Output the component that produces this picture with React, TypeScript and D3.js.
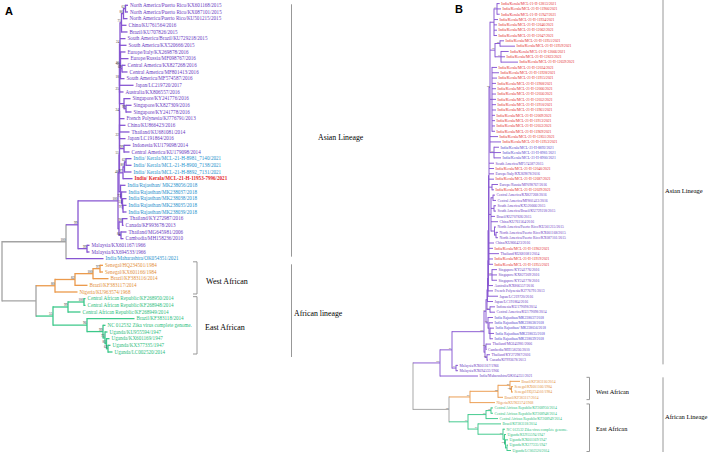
import React from 'react';
import * as d3 from 'd3';

// ---------- Panel A data ----------
const A_NAMES = [
  'North America/Puerto Rico/KX601168/2015', 'North America/Puerto Rico/KX087101/2015', 'North America/Puerto Rico/KU501215/2015',
  'China/KU761564/2016', 'Brazil/KU707826/2015', 'South America/Brazil/KU729218/2015', 'South America/KX520666/2015',
  'Europe/Italy/KX269878/2016', 'Europe/Russia/MF098767/2016', 'Central America/KX827268/2016', 'Central America/MF801413/2016',
  'South America/MF574587/2016', 'Japan/LC219720/2017', 'Australia/KX806557/2016', 'Singapore/KY241776/2016',
  'Singapore/KX827309/2016', 'Singapore/KY241778/2016', 'French Polynesia/KJ776791/2013', 'China/KU866423/2016',
  'Thailand/KU681081/2014', 'Japan/LC191864/2016', 'Indonesia/KU179098/2014', 'Central America/KU179098/2014',
  'India/ Kerala/MCL-21-H-8981_7140/2021', 'India/ Kerala/MCL-21-H-8900_7138/2021', 'India/ Kerala/MCL-21-H-8892_7131/2021',
  'India/ Kerala/MCL-21-H-11953-7996/2021', 'India/Rajasthan/ MK238056/2018', 'India/Rajasthan/MK238037/2018',
  'India/Rajasthan/MK238038/2018', 'India/Rajasthan/MK238035/2018', 'India/Rajasthan/MK238039/2018',
  'Thailand/KY272987/2016', 'Canada/KF993678/2013', 'Thailand/MG645981/2006', 'Cambodia/MH158236/2010',
  'Malaysia/KX601167/1966', 'Malaysia/KX694533/1966', 'India/Maharashtra/OK054351/2021',
  'Senegal/HQ234501/1984', 'Senegal/KX601166/1984', 'Brazil/KF383116/2014', 'Brazil/KF383117/2014', 'Nigeria/KU963574/1968',
  'Central African Republic/KF268950/2014', 'Central African Republic/KF268948/2014', 'Central African Republic/KF268949/2014',
  'Brazil/KF383118/2014', 'NC 012532 Zika virus complete genome.', 'Uganda/KU955594/1947', 'Uganda/KX601169/1947',
  'Uganda/KX377335/1947', 'Uganda/LC002520/2014',
];
const A_GROUPS = 'ppppppppppppppppppppppp' + 'bbb' + 'r' + 'bbbbb' + 'pppppp' + 'b' + 'ooooo' + 'eeeeeeeee';
const A_TIP_DEPTH = [
  126, 126, 125.5, 124.5, 125.5, 123.5, 124.5, 123.5, 126.5, 123.5, 125.5, 122.5, 131.5, 121.5, 128.5, 129.5, 129.5,
  122.5, 123.5, 127.5, 123.5, 128.5, 127.5, 129.5, 129.5, 129.5, 130.5, 123.5, 124.5, 124.5, 124.5, 124.5, 125.5,
  121.5, 124.5, 121.5, 87.5, 87.5, 101.5, 101, 101, 106.5, 85.5, 75.5, 83.5, 83.5, 78.5, 132.5, 103.5, 105.5, 107.5,
  108.5, 110.5,
];
// [id, depth, bootstrap, lineage, children]  (numbers = leaf index)
const A_NODES: [string, number, string, string, (string | number)[]][] = [
  ['root', 0, '', 'g', ['N1', 'AF']],
  ['N1', 64, '100', 'g', ['N2', 38]],
  ['N2', 76, '99', 'p', ['A0', 'MAL']],
  ['MAL', 85, '99', 'p', [36, 37]],
  ['A0', 116, '100', 'p', ['AU', 'T']],
  ['T', 117, '', 'p', ['T2', 'T3']],
  ['T2', 120.5, '98', 'p', [32, 33]],
  ['T3', 119, '84', 'p', [34, 35]],
  ['AU', 117, '48', 'p', ['A1', 'RJ']],
  ['A1', 117.5, '55', 'p', ['A2', 'KL1']],
  ['KL1', 121, '97', 'p', ['KL2', 26]],
  ['KL2', 122.5, '80', 'p', ['KL3', 25]],
  ['KL3', 124, '62', 'p', [23, 24]],
  ['RJ', 118.5, '', 'p', [27, 'RJ1']],
  ['RJ1', 119.5, '73', 'p', [28, 'RJ2']],
  ['RJ2', 120.5, '51', 'p', [29, 'RJ3']],
  ['RJ3', 121, '97', 'p', [30, 31]],
  ['A2', 117.5, '22', 'p', ['A3', 'IC']],
  ['IC', 122, '99', 'p', [21, 22]],
  ['A3', 117.5, '', 'p', ['A4', 20]],
  ['A4', 117.5, '24', 'p', ['A5', 17, 18, 19]],
  ['A5', 117.5, '25', 'p', ['A6', 'SG']],
  ['SG', 122, '', 'p', [14, 'SG1']],
  ['SG1', 124, '99', 'p', [15, 16]],
  ['A6', 117.5, '18', 'p', ['A7', 13]],
  ['A7', 117.5, '46', 'p', ['A8', 12]],
  ['A8', 118, '24', 'p', ['A9', 5, 6, 'A8b']],
  ['A8b', 118.5, '50', 'p', [7, 8, 'CAM', 11]],
  ['CAM', 120, '69', 'p', [9, 10]],
  ['A9', 119.5, '75', 'p', ['NA', 3, 4]],
  ['NA', 121.5, '86', 'p', ['NA1', 2]],
  ['NA1', 123.5, '62', 'p', [0, 1]],
  ['AF', 34, '', 'g', ['W0', 'E0']],
  ['W0', 53, '80', 'o', ['W1', 43]],
  ['W1', 73, '82', 'o', ['W2', 42]],
  ['W2', 91, '100', 'o', ['W3', 41]],
  ['W3', 98, '97', 'o', [39, 40]],
  ['E0', 51, '55', 'e', ['E1', 'E2']],
  ['E1', 66, '99', 'e', ['E1a', 46]],
  ['E1a', 82, '100', 'e', [44, 45]],
  ['E2', 85, '96', 'e', [47, 'E3']],
  ['E3', 101, '99', 'e', [48, 'E4']],
  ['E4', 103, '73', 'e', [49, 'E5']],
  ['E5', 104.5, '81', 'e', [50, 'E6']],
  ['E6', 106, '63', 'e', [51, 52]],
];

// ---------- Panel B data ----------
const K = (id: string) => `India/Kerala/MCL-21-H-${id}/2021`;
const B_NAMES = [
  K('12813'), K('11906'), K('11947'), K('11934'), K('12646'), K('12062'), K('12047'), K('11951'), K('11959'), K('12066'),
  K('12823'), K('12659'), K('12034'), K('11928'), K('11915'), K('11908'), K('12006'), K('12056'), K('12052'), K('11910'),
  K('11961'), K('12009'), K('11913'), K('12053'), K('11969'), K('12851'), K('11953'), K('8892'), K('8981'), K('8900'),
  'South America/MF574587/2015', K('12040'), 'Europe/Italy/KX269878/2016', K('12687'), 'Europe/Russia/MF098767/2016',
  K('12029'), 'Central America/KX827268/2016', 'Central America/MF801413/2016', 'South America/KX520666/2015',
  'South America/Brazil/KU729218/2015', 'Brazil/KU707826/2015', 'China/KU761564/2016',
  'North America/Puerto Rico/KU501215/2015', 'North America/Puerto Rico/KX601168/2015', 'North America/Puerto Rico/KX087101/2015',
  'China/KU866423/2016', K('11902'), 'Thailand/KU681081/2014', K('11919'), K('11955'),
  'Singapore/KY241776/2016', 'Singapore/KX827309/2016', 'Singapore/KY241778/2016', 'Australia/KX806557/2016',
  'French Polynesia/KJ776791/2013', 'Japan/LC219720/2016', 'Japan/LC191864/2016', 'Indonesia/KU179098/2014',
  'Central America/KU179098/2014', 'India Rajasthan/MK238037/2018', 'India Rajasthan/MK238038/2018',
  'India Rajasthan/ MK238056/2018', 'India Rajasthan/MK238035/2018', 'India Rajasthan/MK238039/2018',
  'Thailand/MG645981/2006', 'Cambodia/MH158236/2010', 'Thailand/KY272987/2016', 'Canada/KF993678/2013',
  'Malaysia/KX601167/1966', 'Malaysia/KX694533/1966', 'India/Maharashtra/OK054351/2021',
  'Brazil/KF383116/2014', 'Senegal/KX601166/1984', 'Senegal/HQ234501/1984', 'Brazil/KF383117/2014', 'Nigeria/KU963574/1968',
  'Central African Republic/KF268950/2014', 'Central African Republic/KF268948/2014', 'Central African Republic/KF268949/2014',
  'Brazil/KF383118/2014', 'NC 012532 Zika virus complete genome.', 'Uganda/KU955594/1947', 'Uganda/KX601169/1947',
  'Uganda/KX377335/1947', 'Uganda/LC002520/2014',
];
const B_GROUPS = 'rrrrrrrrrrrrrrrrrrrrrrrrrrr' + 'vvv' + 'prprpr' + 'pppppppppp' + 'rprr' + 'ppppppppp' + 'vvvvv' + 'ppppppp' + 'ooooo' + 'eeeeeeeee';
const B_TIP_DEPTH = [
  86.7, 88, 86.7, 85, 84, 84, 84, 91, 102, 95.7, 92, 105, 84, 86, 84, 83, 83, 83, 83, 83, 83, 82, 82, 82, 82, 85, 88,
  86, 88, 88, 81, 81, 81, 81, 85, 81, 82, 83, 83, 83, 82, 85, 83, 85, 85, 81, 80, 86, 80, 80, 84, 84, 84, 80, 80, 85,
  80, 82, 82, 80, 80, 81, 81, 80, 78, 73.5, 77, 75, 45, 45, 65, 107, 100, 100, 90, 82, 80, 80, 85, 88, 92, 93, 95, 95, 98,
];
const B_NODES: [string, number, string, string, (string | number)[]][] = [
  ['root', 0, '', 'g', ['N1', 'AF']],
  ['N1', 27, '100', 'p', ['N2', 70]],
  ['N2', 39, '81', 'p', ['A0', 'MAL']],
  ['MAL', 43, '97', 'p', [68, 69]],
  ['A0', 71, '100', 'p', ['U', 'T']],
  ['T', 72, '', 'p', ['T1', 'T2']],
  ['T1', 73, '84', 'p', [64, 65]],
  ['T2', 74, '98', 'p', [66, 67]],
  ['U', 73, '33', 'p', ['KB', 'R']],
  ['R', 75, '99', 'p', [59, 'R1']],
  ['R1', 76, '', 'p', [60, 'R2']],
  ['R2', 77, '', 'p', [61, 62, 63]],
  ['KB', 74, '', 'p', ['K1', 'IC']],
  ['IC', 77, '99', 'p', [57, 58]],
  ['K1', 74.5, '', 'p', ['K2', 56]],
  ['K2', 75, '', 'p', ['K3', 55]],
  ['K3', 75, '', 'p', ['K4', 54]],
  ['K4', 75.5, '', 'p', ['S', 'SG', 53]],
  ['SG', 79, '98', 'p', [50, 51, 52]],
  ['S', 76, '', 'p', ['KC', 30, 31, 32, 33, 'ER', 'AM', 45, 46, 47, 48, 49]],
  ['ER', 79, '', 'p', [34, 35]],
  ['AM', 78, '', 'p', ['CA', 'SA', 40, 41, 'NA']],
  ['CA', 80, '', 'p', [36, 37]],
  ['SA', 81, '', 'p', [38, 39]],
  ['NA', 81.5, '', 'p', [42, 'NA1']],
  ['NA1', 83, '', 'p', [43, 44]],
  ['KC', 77, '64', 'p', ['Ka', 'Kb', 'Kc', 25, 26, 'Kd']],
  ['Ka', 81, '', 'p', ['Ka1', 3, 4, 5, 6]],
  ['Ka1', 84, '71', 'p', [0, 1, 2]],
  ['Kb', 82, '95', 'p', ['Kb1', 'Kb2']],
  ['Kb1', 87, '80', 'p', [7, 8]],
  ['Kb2', 88, '71', 'p', [9, 10, 11]],
  ['Kc', 79, '', 'p', [12, 13, 14, 15, 16, 17, 18, 19, 20, 21, 22, 23, 24]],
  ['Kd', 81, '99', 'p', [27, 28, 29]],
  ['AF', 36, '95', 'g', ['W0', 'E0']],
  ['W0', 57, '87', 'o', ['W1', 75]],
  ['W1', 85, '82', 'o', ['W2', 74]],
  ['W2', 97, '87', 'o', [71, 'W3']],
  ['W3', 98.5, '100', 'o', [72, 73]],
  ['E0', 55, '97', 'e', ['E1', 'E2']],
  ['E1', 73, '99', 'e', ['E1a', 78]],
  ['E1a', 78, '95', 'e', [76, 77]],
  ['E2', 65, '67', 'e', [79, 'E3']],
  ['E3', 90, '97', 'e', [80, 'E4']],
  ['E4', 91.5, '', 'e', [81, 'E5']],
  ['E5', 92.5, '100', 'e', [82, 'E6']],
  ['E6', 94, '', 'e', [83, 84]],
];

const A_CLADES = ['Asian Lineage', 'African lineage'];
const A_SUBCLADES = ['West African', 'East African'];
const B_CLADES = ['Asian Lineage', 'African Lineage'];
const B_SUBCLADES = ['West African', 'East African'];

// ---------- styling ----------
const LINE: Record<string, string> = { p: '#8756d2', o: '#eb9a4c', e: '#3cc88a', g: '#a3a3a3' };
const TEXT: Record<string, string> = { p: '#6a3abf', b: '#2590cc', r: '#e3261f', v: '#5242cc', o: '#e38e3a', e: '#2abd7c' };
const LINEAGE: Record<string, string> = { p: 'p', b: 'p', r: 'p', v: 'p', o: 'o', e: 'e' };
const SERIF = '"Liberation Serif", "Times New Roman", serif';

function layout(nodes: any[], tips: number[], x: any, y: any) {
  const defs = new Map(nodes.map((n) => [n[0], n]));
  const build = (ref: any): any => {
    if (typeof ref === 'number') return { leaf: ref, depth: tips[ref] };
    const n = defs.get(ref);
    return { id: n[0], depth: n[1], support: n[2], color: n[3], children: n[4].map(build) };
  };
  const root: any = d3.hierarchy(build(nodes[0][0]));
  root.eachAfter((n: any) => {
    n.px = x(n.data.depth);
    n.py = n.children ? (n.children[0].py + n.children[n.children.length - 1].py) / 2 : y(n.data.leaf);
  });
  return root;
}

function Tree({ nodes, tips, names, groups, x, y, sw, fs, bfs, gap, boldRed }: any) {
  const root = layout(nodes, tips, x, y);
  const lines: any[] = [];
  const labels: any[] = [];
  const supports: any[] = [];
  const col = (n: any) => (n.children ? LINE[n.data.color] : LINE[LINEAGE[groups[n.data.leaf]]]);
  root.each((n: any) => {
    if (n.children) {
      const c0 = n.children[0], c1 = n.children[n.children.length - 1];
      lines.push(<line key={`v${n.data.id}`} x1={n.px} x2={n.px} y1={c0.py} y2={c1.py} stroke={LINE[n.data.color]} strokeWidth={sw} strokeLinecap="square" />);
      n.children.forEach((c: any, i: number) => {
        lines.push(<line key={`h${n.data.id}-${i}`} x1={n.px} x2={c.px} y1={c.py} y2={c.py} stroke={col(c)} strokeWidth={sw} />);
      });
      if (n.data.support) {
        supports.push(<text key={`s${n.data.id}`} x={n.px - 0.5} y={n.py - 0.7} textAnchor="end" fontSize={bfs} fill="#333" fontFamily={SERIF}>{n.data.support}</text>);
      }
    } else {
      const g = groups[n.data.leaf];
      labels.push(
        <text key={`l${n.data.leaf}`} x={n.px + gap} y={n.py} dy="0.35em" fontSize={fs} fill={TEXT[g]}
          fontWeight={boldRed && g === 'r' ? 'bold' : 'normal'} fontFamily={SERIF}>{names[n.data.leaf]}</text>
      );
    }
  });
  return <g>{lines}{supports}{labels}</g>;
}

function Bracket({ x, y1, y2, tick, stroke }: any) {
  const d = tick ? `M${x - tick},${y1}H${x}V${y2}H${x - tick}` : `M${x},${y1}V${y2}`;
  return <path d={d} fill="none" stroke={stroke} strokeWidth={0.9} />;
}

export default function App() {
  const xA = d3.scaleLinear().domain([0, 150]).range([2, 152]);
  const yA = d3.scaleLinear().domain([0, A_NAMES.length - 1]).range([5.3, 352]);
  const xB = d3.scaleLinear().domain([0, 110]).range([413, 523]);
  const yB = d3.scaleLinear().domain([0, B_NAMES.length - 1]).range([3.6, 450.5]);

  return (
    <svg width={708} height={454} style={{ position: 'absolute', left: 0, top: 0, background: '#fff' }}>
      <text x={5} y={15} fontSize={11} fontWeight="bold" fontFamily='"Liberation Sans", Arial, sans-serif'>A</text>
      <text x={455} y={13} fontSize={11} fontWeight="bold" fontFamily='"Liberation Sans", Arial, sans-serif'>B</text>

      <Tree nodes={A_NODES} tips={A_TIP_DEPTH} names={A_NAMES} groups={A_GROUPS} x={xA} y={yA} sw={1.3} fs={5.1} bfs={3.4} gap={2} boldRed />
      <Tree nodes={B_NODES} tips={B_TIP_DEPTH} names={B_NAMES} groups={B_GROUPS} x={xB} y={yB} sw={0.95} fs={3.7} bfs={2.4} gap={1.5} />

      {/* Panel A lineage brackets */}
      <Bracket x={291.5} y1={yA(0) - 1} y2={yA(38) - 2} stroke="#8c8c8c" />
      <Bracket x={291.5} y1={yA(39) - 1} y2={yA(52) + 5} stroke="#8c8c8c" />
      <text x={318} y={137} dy="0.35em" fontSize={7.8} fontFamily={SERIF}>{A_CLADES[0]}</text>
      <text x={294} y={313} dy="0.35em" fontSize={7.8} fontFamily={SERIF}>{A_CLADES[1]}</text>
      <Bracket x={197} y1={yA(39) - 3.5} y2={yA(43) + 2} tick={4} stroke="#8c8c8c" />
      <Bracket x={197} y1={yA(44) - 2} y2={yA(52) + 2} tick={4} stroke="#8c8c8c" />
      <text x={206} y={281} dy="0.35em" fontSize={8} fontFamily={SERIF}>{A_SUBCLADES[0]}</text>
      <text x={205} y={327} dy="0.35em" fontSize={8} fontFamily={SERIF}>{A_SUBCLADES[1]}</text>

      {/* Panel B lineage brackets */}
      <Bracket x={663} y1={0} y2={yB(68) - 1} stroke="#8c8c8c" />
      <Bracket x={663} y1={yB(71) - 4} y2={yB(84) + 1.5} stroke="#8c8c8c" />
      <text x={665} y={191} dy="0.35em" fontSize={6.5} fontFamily={SERIF}>{B_CLADES[0]}</text>
      <text x={665} y={417} dy="0.35em" fontSize={6.5} fontFamily={SERIF}>{B_CLADES[1]}</text>
      <Bracket x={589.5} y1={yB(71) - 4} y2={yB(75) - 3} tick={3} stroke="#8c8c8c" />
      <Bracket x={589.5} y1={yB(76) - 4} y2={yB(84) + 1} tick={3} stroke="#8c8c8c" />
      <text x={596} y={392} dy="0.35em" fontSize={6.3} fontFamily={SERIF}>{B_SUBCLADES[0]}</text>
      <text x={596} y={429} dy="0.35em" fontSize={6.3} fontFamily={SERIF}>{B_SUBCLADES[1]}</text>
    </svg>
  );
}
